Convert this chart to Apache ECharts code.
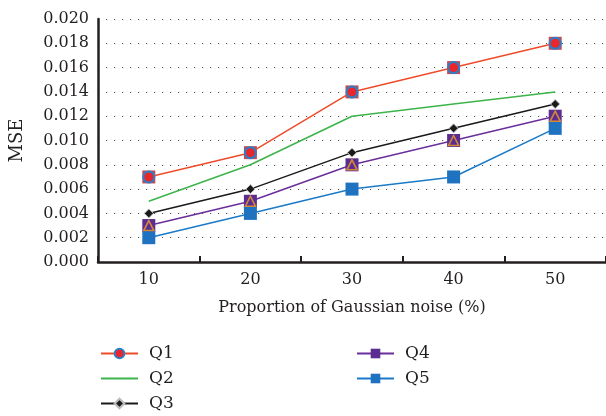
<!DOCTYPE html>
<html><head><meta charset="utf-8">
<script src="https://cdn.jsdelivr.net/npm/echarts@6/dist/echarts.min.js"></script>
<style>html,body{margin:0;padding:0;background:#fff;}#c{width:606px;height:416px;}</style>
</head><body><div id="c"></div>
<script>
var categories = ['10', '20', '30', '40', '50'];
var q1 = [0.007, 0.009, 0.014, 0.016, 0.018];
var q2 = [0.005, 0.008, 0.012, 0.013, 0.014];
var q3 = [0.004, 0.006, 0.009, 0.011, 0.013];
var q4 = [0.003, 0.005, 0.008, 0.010, 0.012];
var q5 = [0.002, 0.004, 0.006, 0.007, 0.011];
var seriesNames = ['Q1', 'Q2', 'Q3', 'Q4', 'Q5'];
var xTitle = 'Proportion of Gaussian noise (%)';
var yTitle = 'MSE';

var FONT = 'DejaVu Serif';
var TXT = '#231f20';
var FS = 16;
var chart = echarts.init(document.getElementById('c'), null, {renderer: 'canvas'});
chart.setOption({
  animation: false,
  backgroundColor: '#fff',
  textStyle: {fontFamily: FONT, color: TXT},
  grid: {left: 98, top: 19, width: 514, height: 243, containLabel: false},
  legend: [
    {data: [seriesNames[0], {name: seriesNames[1], itemStyle: {opacity: 0}}, seriesNames[2]], orient: 'vertical', left: 95, top: 340, height: 80, itemWidth: 37, itemHeight: 12, itemGap: 8,
     textStyle: {fontFamily: FONT, fontSize: FS + 1, color: TXT, padding: [0, 0, 0, 6]}},
    {data: [seriesNames[3], seriesNames[4]], orient: 'vertical', left: 351, top: 340, height: 80, itemWidth: 37, itemHeight: 12, itemGap: 8,
     textStyle: {fontFamily: FONT, fontSize: FS + 1, color: TXT, padding: [0, 0, 0, 6]}}
  ],
  xAxis: {
    type: 'category', data: categories, boundaryGap: true,
    name: xTitle, nameLocation: 'middle', nameGap: 38,
    nameTextStyle: {fontFamily: FONT, fontSize: FS, color: TXT},
    axisLine: {lineStyle: {color: '#231f20', width: 2.5}},
    axisTick: {show: true, inside: true, length: 6, lineStyle: {color: '#231f20', width: 2}},
    axisLabel: {fontFamily: FONT, fontSize: FS, color: TXT, margin: 10},
    splitLine: {show: false}
  },
  yAxis: {
    type: 'value', min: 0, max: 0.02, interval: 0.002,
    name: yTitle, nameLocation: 'middle', nameGap: 72, nameRotate: 90,
    nameTextStyle: {fontFamily: FONT, fontSize: FS + 2, color: TXT},
    axisLine: {show: true, lineStyle: {color: '#231f20', width: 2.5}},
    axisTick: {show: false},
    axisLabel: {fontFamily: FONT, fontSize: FS, color: TXT, margin: 9, formatter: function (v) { return v.toFixed(3); }},
    splitLine: {show: true, lineStyle: {color: '#555', width: 1, type: [1.2, 6.8]}}
  },
  series: [
    {name: 'Q1', type: 'line', data: q1, color: '#ee4b2b', lineStyle: {width: 1.5, color: '#ee4b2b'},
     symbol: 'circle', symbolSize: 11, itemStyle: {color: '#e8262b', borderColor: '#2a7fc9', borderWidth: 2}, z: 5},
    {name: 'Q1b', type: 'scatter', data: q1, symbol: 'rect', symbolSize: 13, itemStyle: {color: '#b01f2e'}, z: 4, silent: true},
    {name: 'Q2', type: 'line', data: q2, color: '#3cb44a', lineStyle: {width: 1.5, color: '#3cb44a'}, symbol: 'none', showSymbol: false, z: 3},
    {name: 'Q3', type: 'line', data: q3, color: '#1a1a1a', lineStyle: {width: 1.5, color: '#1a1a1a'},
     symbol: 'diamond', symbolSize: 9, itemStyle: {color: '#1a1a1a', borderColor: '#bbb', borderWidth: 1}, z: 5},
    {name: 'Q4', type: 'line', data: q4, color: '#6a2f9a', lineStyle: {width: 1.5, color: '#6a2f9a'},
     symbol: 'rect', symbolSize: 13, itemStyle: {color: '#5c2d91'}, z: 5},
    {name: 'Q4b', type: 'scatter', data: q4, symbol: 'triangle', symbolSize: 10, itemStyle: {color: 'rgba(0,0,0,0)', borderColor: '#f0a020', borderWidth: 1.6}, z: 6, silent: true},
    {name: 'Q5', type: 'line', data: q5, color: '#1a7ac8', lineStyle: {width: 1.5, color: '#1a7ac8'},
     symbol: 'rect', symbolSize: 13, itemStyle: {color: '#1f72c0'}, z: 5}
  ]
});
</script></body></html>
